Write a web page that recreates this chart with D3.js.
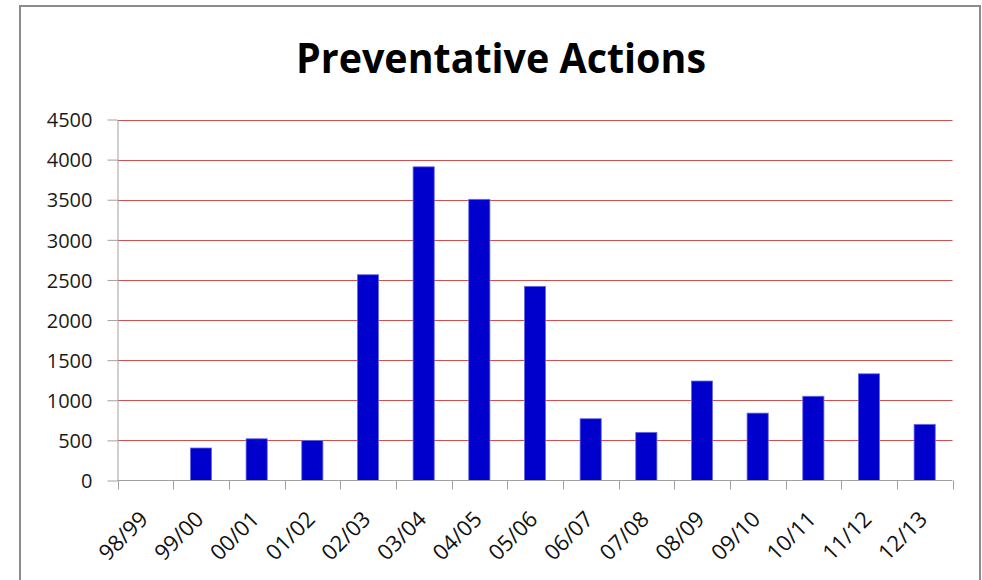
<!DOCTYPE html>
<html>
<head>
<meta charset="utf-8">
<script src="https://cdn.jsdelivr.net/npm/d3@7"></script>
<style>
  html, body { margin: 0; padding: 0; background: #fff; }
  svg { display: block; }
</style>
</head>
<body>
<svg id="chart" width="982" height="580"></svg>
<script>
const categories = ["98/99","99/00","00/01","01/02","02/03","03/04","04/05","05/06","06/07","07/08","08/09","09/10","10/11","11/12","12/13"];
const values = [0, 405, 520, 500, 2565, 3910, 3505, 2420, 770, 600, 1240, 840, 1050, 1330, 700];
const yTicks = [0, 500, 1000, 1500, 2000, 2500, 3000, 3500, 4000, 4500];
const title = "Preventative Actions";

(function () {
const svg = d3.select("#chart");
const W = 982, H = 580;
const mLeft = 117.5, mRight = 952.5, mTop = 119.5, mBottom = 480.5;
const FONT = "'Open Sans', sans-serif";

// frame
svg.append("path")
  .attr("d", `M20,${H+5} L20,6 L980,6 L980,${H+5}`)
  .attr("fill", "none").attr("stroke", "#8c8c8c").attr("stroke-width", 2);

const x = d3.scaleBand().domain(categories).range([mLeft, mRight])
  .paddingInner(0.62).paddingOuter(0.31);
const y = d3.scaleLinear().domain([0, 4500]).range([mBottom, mTop]);

// gridlines
svg.append("g").selectAll("line").data(yTicks.filter(d => d > 0)).join("line")
  .attr("x1", mLeft).attr("x2", mRight)
  .attr("y1", d => Math.round(y(d)) + 0.5).attr("y2", d => Math.round(y(d)) + 0.5)
  .attr("stroke", "#d05050").attr("stroke-width", 1);

// bars
svg.append("g").selectAll("rect").data(categories).join("rect")
  .attr("x", d => x(d))
  .attr("width", x.bandwidth())
  .attr("y", (d, i) => y(values[i]))
  .attr("height", (d, i) => mBottom - y(values[i]))
  .attr("fill", "#0000cc")
  .attr("stroke", "#6a6ae8").attr("stroke-width", 0.8);

// y axis
const yAxis = d3.axisLeft(y).tickValues(yTicks).tickFormat(d3.format("d"))
  .tickSize(10).tickPadding(15).tickSizeOuter(0);
const gy = svg.append("g").attr("transform", `translate(${mLeft},0)`).call(yAxis);
gy.select(".domain").attr("stroke", "#a0a0a0");
gy.selectAll(".tick line").attr("stroke", "#a0a0a0");
gy.selectAll(".tick text")
  .attr("font-family", FONT).attr("font-size", 20)
  .attr("fill", "#1a1a1a").attr("dy", "0.36em");

// x axis: ticks at category boundaries
const step = x.step();
const boundaries = d3.range(categories.length + 1).map(i => mLeft + i * step);
const gx = svg.append("g");
gx.append("line").attr("x1", mLeft).attr("x2", mRight).attr("y1", mBottom).attr("y2", mBottom)
  .attr("stroke", "#a0a0a0");
gx.selectAll("line.tk").data(boundaries).join("line").attr("class", "tk")
  .attr("x1", d => Math.round(d) + 0.5).attr("x2", d => Math.round(d) + 0.5)
  .attr("y1", mBottom).attr("y2", mBottom + 9)
  .attr("stroke", "#a0a0a0");
gx.selectAll("text").data(categories).join("text")
  .attr("transform", d => `translate(${x(d) + x.bandwidth() / 2 + 4},${mBottom + 40}) rotate(-45)`)
  .attr("text-anchor", "end")
  .attr("font-family", FONT).attr("font-size", 22)
  .attr("fill", "#111")
  .text(d => d);

// title
const t = svg.append("text")
  .attr("x", 501).attr("y", 73)
  .attr("text-anchor", "middle")
  .attr("font-family", FONT).attr("font-weight", "bold")
  .attr("font-size", 41).attr("fill", "#000")
  .text(title);
const len = t.node().getComputedTextLength();
if (len > 410) t.attr("textLength", 410).attr("lengthAdjust", "spacingAndGlyphs");
})();
</script>
</body>
</html>
